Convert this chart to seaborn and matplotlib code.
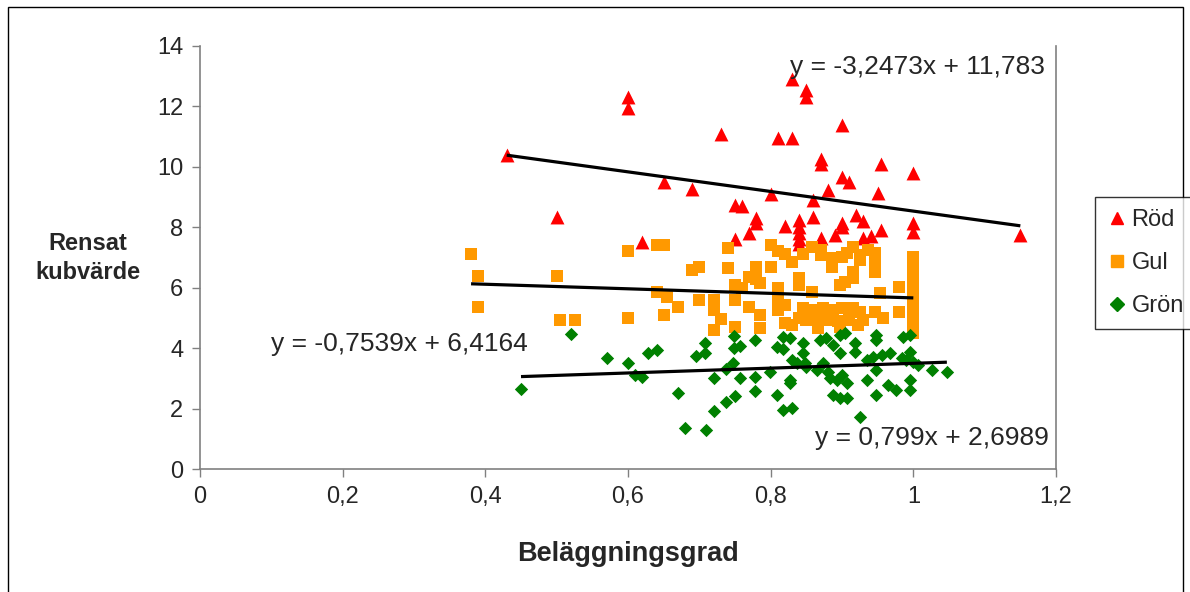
import numpy as np
import pandas as pd
import matplotlib
matplotlib.use("Agg")
import matplotlib.pyplot as plt
from matplotlib.lines import Line2D
from matplotlib.patches import Rectangle
import seaborn as sns

# Beläggningsgrad (x) och rensat kubvärde (y) per serie
rod_x = [0.43, 0.50, 0.60, 0.60, 0.62, 0.65, 0.69, 0.73, 0.75, 0.76, 0.75, 0.77,
         0.78, 0.78, 0.80, 0.81, 0.82, 0.83, 0.83, 0.84, 0.84, 0.84, 0.84, 0.84,
         0.85, 0.85, 0.86, 0.86, 0.87, 0.87, 0.87, 0.88, 0.89, 0.90, 0.90, 0.91,
         0.90, 0.90, 0.92, 0.93, 0.93, 0.94, 0.95, 0.955, 0.955, 1.00, 1.00, 1.00,
         1.15]
rod_y = [10.4, 8.35, 12.3, 11.95, 7.5, 9.5, 9.28, 11.1, 8.75, 8.7, 7.6, 7.8,
         8.3, 8.15, 9.1, 10.95, 8.05, 12.9, 10.95, 8.25, 8.0, 7.8, 7.6, 7.45,
         12.55, 12.3, 8.9, 8.35, 10.25, 10.1, 7.65, 9.25, 7.75, 11.4, 9.65, 9.5,
         8.15, 8.0, 8.4, 8.2, 7.65, 7.7, 9.15, 10.1, 7.9, 9.8, 8.15, 7.85,
         7.75]

gul_x = [0.38, 0.39, 0.39, 0.50, 0.505, 0.525, 0.60, 0.60,
         0.64, 0.65, 0.64, 0.655, 0.67, 0.65,
         0.69, 0.70, 0.70,
         0.72, 0.72, 0.72, 0.73,
         0.74, 0.74, 0.75, 0.76, 0.75, 0.75, 0.77, 0.77,
         0.78, 0.78, 0.785, 0.785, 0.785,
         0.80, 0.80, 0.81, 0.82, 0.83, 0.845,
         0.81, 0.81, 0.81, 0.82, 0.82, 0.83, 0.84, 0.845, 0.84, 0.84, 0.84,
         0.858, 0.87, 0.87, 0.886, 0.886, 0.90, 0.907, 0.915, 0.925, 0.925,
         0.936, 0.946, 0.946, 0.946, 0.915, 0.915, 0.904, 0.897, 0.858, 0.953,
         1.00, 1.00, 1.00, 1.00, 1.00, 1.00, 1.00, 1.00, 1.00, 0.98, 0.98,
         0.858, 0.873, 0.887, 0.90, 0.915, 0.925,
         0.85, 0.865, 0.88, 0.895, 0.91, 0.93,
         0.866, 0.897, 0.922, 0.946, 0.957]
gul_y = [7.1, 6.4, 5.37, 6.4, 4.93, 4.93, 7.2, 5.0,
         7.4, 7.4, 5.85, 5.7, 5.35, 5.1,
         6.6, 6.7, 5.6,
         5.6, 5.25, 4.6, 4.95,
         7.3, 6.66, 6.1, 6.0, 5.6, 4.7, 5.36, 6.36,
         6.7, 6.3, 6.15, 5.1, 4.67,
         7.4, 6.7, 7.2, 7.1, 6.85, 7.1,
         6.0, 5.6, 5.26, 5.43, 4.83, 4.77, 5.0, 5.33, 6.19, 6.32, 6.09,
         7.35, 7.25, 7.09, 6.99, 6.69, 7.02, 7.15, 7.35, 7.09, 6.92,
         7.25, 7.15, 6.85, 6.52, 6.52, 6.32, 6.19, 6.09, 5.86, 5.83,
         7.02, 6.7, 6.4, 6.1, 5.8, 5.5, 5.1, 4.8, 4.5, 6.03, 5.2,
         5.26, 5.33, 5.26, 5.33, 5.33, 5.2,
         4.93, 4.93, 4.93, 4.9, 4.93, 4.93,
         4.67, 4.7, 4.77, 5.2, 5.0]

gron_x = [0.45, 0.52, 0.57, 0.60, 0.61, 0.62, 0.628, 0.64, 0.67, 0.68, 0.71,
          0.708, 0.696, 0.708, 0.72, 0.72, 0.737, 0.747, 0.737, 0.75, 0.757,
          0.748, 0.748, 0.757, 0.778, 0.778, 0.778, 0.799, 0.809, 0.809, 0.817,
          0.817, 0.827, 0.83, 0.827, 0.827, 0.817, 0.83, 0.845, 0.845, 0.837,
          0.848, 0.869, 0.878, 0.897, 0.904, 0.887, 0.897, 0.918, 0.918, 0.948,
          0.948, 0.985, 0.995, 0.995, 0.935, 0.943, 0.956, 0.967, 0.948, 0.984,
          0.99, 0.999, 1.006, 1.026, 1.047, 0.85, 0.865, 0.873, 0.88, 0.883,
          0.893, 0.90, 0.907, 0.935, 0.964, 0.976, 0.995, 0.995, 0.887, 0.897,
          0.907, 0.948, 0.925]
gron_y = [2.65, 4.47, 3.67, 3.5, 3.1, 3.03, 3.84, 3.94, 2.52, 1.36, 1.3,
          4.17, 3.74, 3.84, 3.0, 1.92, 3.31, 3.51, 2.22, 2.42, 3.01,
          4.4, 4.0, 4.07, 4.27, 3.05, 2.58, 3.21, 2.45, 4.04, 3.97,
          4.37, 4.34, 3.6, 2.95, 2.85, 1.95, 2.02, 4.17, 3.84, 3.5,
          3.5, 4.27, 4.34, 4.44, 4.5, 4.1, 3.84, 4.17, 3.87, 4.44,
          4.27, 4.37, 4.44, 3.87, 3.6, 3.71, 3.77, 3.84, 3.28, 3.67,
          3.6, 3.54, 3.44, 3.28, 3.21, 3.38, 3.28, 3.5, 3.21, 3.0,
          2.95, 3.11, 2.85, 2.95, 2.78, 2.62, 2.95, 2.62, 2.45, 2.35,
          2.35, 2.45, 1.72]

# Linjära trendlinjer (lutning, intercept) enligt ekvationerna
series = ["Röd", "Gul", "Grön"]
slopes = [-3.2473, -0.7539, 0.799]
intercepts = [11.783, 6.4164, 2.6989]
eq_labels = ["y = -3,2473x + 11,783", "y = -0,7539x + 6,4164", "y = 0,799x + 2,6989"]

x_ticks = [0, 0.2, 0.4, 0.6, 0.8, 1.0, 1.2]
x_tick_labels = ["0", "0,2", "0,4", "0,6", "0,8", "1", "1,2"]
y_ticks = [0, 2, 4, 6, 8, 10, 12, 14]

colors = {"Röd": "#FF0000", "Gul": "#FF9900", "Grön": "#008000"}
markers = {"Röd": "^", "Gul": "s", "Grön": "D"}
sizes = {"Röd": 100, "Gul": 75, "Grön": 46}

df = pd.concat([
    pd.DataFrame({"x": rod_x, "y": rod_y, "serie": "Röd"}),
    pd.DataFrame({"x": gul_x, "y": gul_y, "serie": "Gul"}),
    pd.DataFrame({"x": gron_x, "y": gron_y, "serie": "Grön"}),
], ignore_index=True)

sns.set_style("white")
plt.rcParams["font.family"] = ["Liberation Sans", "DejaVu Sans"]

fig = plt.figure(figsize=(11.9, 5.92), dpi=100)
fig.patch.set_facecolor("white")
# ram runt hela diagrammet
fig.patches.append(Rectangle((8 / 1190, -0.01), 1175 / 1190, 1 - 7 / 592 + 0.01,
                             transform=fig.transFigure, fill=False,
                             edgecolor="black", linewidth=1.0))

ax = fig.add_axes([200 / 1190, 1 - 469 / 592, 856 / 1190, 423 / 592])

for name in series:
    sub = df[df["serie"] == name]
    sns.scatterplot(data=sub, x="x", y="y", ax=ax, marker=markers[name],
                    color=colors[name], s=sizes[name], linewidth=0, legend=False,
                    zorder=3)

for name, k, m in zip(series, slopes, intercepts):
    sub = df[df["serie"] == name]
    xs = np.array([sub["x"].min(), sub["x"].max()])
    ax.plot(xs, k * xs + m, color="black", linewidth=2.3, zorder=4,
            solid_capstyle="butt")

eq_size = 19
ax.text(0.827, 13.3, eq_labels[0], fontsize=eq_size, va="center", ha="left", zorder=5)
ax.text(0.10, 4.15, eq_labels[1], fontsize=eq_size, va="center", ha="left", zorder=5)
ax.text(0.862, 1.02, eq_labels[2], fontsize=eq_size, va="center", ha="left", zorder=5)

ax.set_xlim(0, 1.2)
ax.set_ylim(0, 14)
ax.set_xticks(x_ticks)
ax.set_xticklabels(x_tick_labels)
ax.set_yticks(y_ticks)
ax.tick_params(axis="both", direction="out", length=6, width=1, color="#808080",
               labelsize=17, pad=6, left=True, bottom=True)
ax.set_xlabel("Beläggningsgrad", fontsize=19.5, fontweight="bold", labelpad=24)
ax.set_ylabel("")
fig.text(88 / 1190, 1 - 258 / 592, "Rensat\nkubvärde", fontsize=17,
         fontweight="bold", ha="center", va="center", linespacing=1.3)

for side in ["left", "bottom"]:
    ax.spines[side].set_color("#808080")
    ax.spines[side].set_linewidth(1.2)
ax.spines["top"].set_visible(False)
ax.spines["right"].set_color("#808080")
ax.spines["right"].set_linewidth(1.2)

handles = [Line2D([], [], linestyle="none", marker=markers[n], color=colors[n],
                  markersize={"Röd": 9, "Gul": 8, "Grön": 7}[n], label=n)
           for n in series]
leg = fig.legend(handles=handles, loc="upper left",
                 bbox_to_anchor=(1095 / 1190, 1 - 197 / 592),
                 frameon=True, fancybox=False, fontsize=17, handletextpad=0.15,
                 handlelength=0.9, borderpad=0.5, borderaxespad=0,
                 labelspacing=0.9)
leg.get_frame().set_edgecolor("black")
leg.get_frame().set_linewidth(1.0)

fig.savefig("out.png", dpi=100)
